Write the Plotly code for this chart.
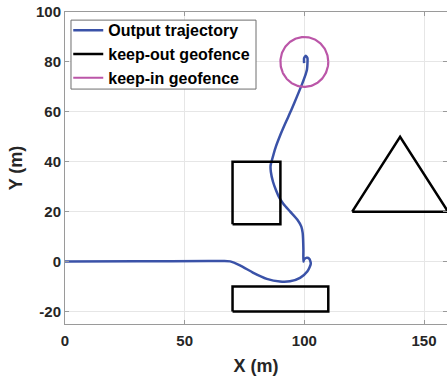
import numpy as np
import plotly.graph_objects as go

# Output trajectory (m)
traj_x = [0, 30, 60, 66, 69.0, 73.1, 78.7, 84.3, 89.8, 94.0, 98.2, 101.3, 102.7, 102.1, 101.0,
          99.9, 99.6, 99.6, 99.3, 98.7, 97.1, 94.0, 91.2, 89.6, 88.2, 86.9, 86.0, 85.9, 86.5,
          87.9, 90.0, 92.1, 94.6, 96.9, 99.0, 100.2, 101.1, 101.3, 101.3, 100.6, 99.9, 99.9]
traj_y = [0, 0.1, 0.2, 0.2, 0.1, -1.5, -4.5, -6.9, -8.0, -7.9, -6.5, -3.9, -0.8, 1.1, 1.5,
          0.8, 0.0, 4.8, 11.5, 14.1, 16.8, 20.1, 23.2, 25.5, 28.5, 32.0, 36.0, 38.5, 40.8,
          45.5, 50.8, 55.5, 60.8, 66.1, 71.0, 74.1, 77.0, 79.5, 81.5, 82.5, 81.5, 79.5]

# Keep-out geofences: two rectangles and a triangle (vertices, closed)
rect1_x = [70, 90, 90, 70, 70]
rect1_y = [15, 15, 40, 40, 15]
rect2_x = [70, 110, 110, 70, 70]
rect2_y = [-20, -20, -10, -10, -20]
tri_x = [120, 140, 160, 120]
tri_y = [20, 50, 20, 20]

# Keep-in geofence: circle
keepin_center = (100, 80)
keepin_radius = 10

x_ticks = [0, 50, 100, 150]
x_ticktext = ["0", "50", "100", "150"]
y_ticks = [-20, 0, 20, 40, 60, 80, 100]
y_ticktext = ["-20", "0", "20", "40", "60", "80", "100"]

BLUE = "#3A52A8"
MAGENTA = "#BB56A8"
FONT = "Liberation Sans"

fig = go.Figure()

fig.add_trace(go.Scatter(
    x=traj_x, y=traj_y, mode="lines", name="Output trajectory",
    line=dict(color=BLUE, width=2.5, shape="spline", smoothing=0.6),
))

first = True
for gx, gy in [(rect1_x, rect1_y), (rect2_x, rect2_y), (tri_x, tri_y)]:
    fig.add_trace(go.Scatter(
        x=gx, y=gy, mode="lines", name="keep-out geofence",
        legendgroup="keepout", showlegend=first,
        line=dict(color="black", width=2.5),
    ))
    first = False

theta = np.linspace(0, 2 * np.pi, 181)
fig.add_trace(go.Scatter(
    x=keepin_center[0] + keepin_radius * np.cos(theta),
    y=keepin_center[1] + keepin_radius * np.sin(theta),
    mode="lines", name="keep-in geofence",
    line=dict(color=MAGENTA, width=2.2),
))

axis_common = dict(
    showgrid=True, gridcolor="#E6E6E6", gridwidth=1,
    showline=True, linecolor="#9A9A9A", linewidth=1, mirror="ticks",
    ticks="inside", ticklen=4, tickcolor="#9A9A9A",
    zeroline=False, tickmode="array",
    tickfont=dict(family=FONT, size=15, color="#262626", weight="bold"),
)

# Legend frame drawn as a tight box behind the legend entries
fig.add_shape(
    type="rect", xref="paper", yref="paper",
    x0=0.0157, x1=0.5, y0=0.753, y1=0.974,
    line=dict(color="#6E6E6E", width=1), fillcolor="white", layer="above",
)

fig.update_layout(
    width=447, height=380,
    margin=dict(l=65, r=0, t=12, b=56),
    paper_bgcolor="white", plot_bgcolor="white",
    xaxis=dict(range=[0, 159.6], tickvals=x_ticks, ticktext=x_ticktext,
               ticklabelstandoff=3,
               title=dict(text="X (m)", font=dict(family=FONT, size=18, color="#262626", weight="bold"),
                          standoff=11),
               **axis_common),
    yaxis=dict(range=[-25, 100], tickvals=y_ticks, ticktext=y_ticktext,
               title=dict(text="Y (m)", font=dict(family=FONT, size=18, color="#262626", weight="bold"),
                          standoff=8),
               **axis_common),
    legend=dict(
        x=0.0085, y=0.996, xanchor="left", yanchor="top",
        bgcolor="rgba(0,0,0,0)", borderwidth=0,
        font=dict(family=FONT, size=16, color="black", weight="bold"),
        tracegroupgap=0, itemwidth=30,
    ),
    showlegend=True,
)

fig.write_html("out.html")
